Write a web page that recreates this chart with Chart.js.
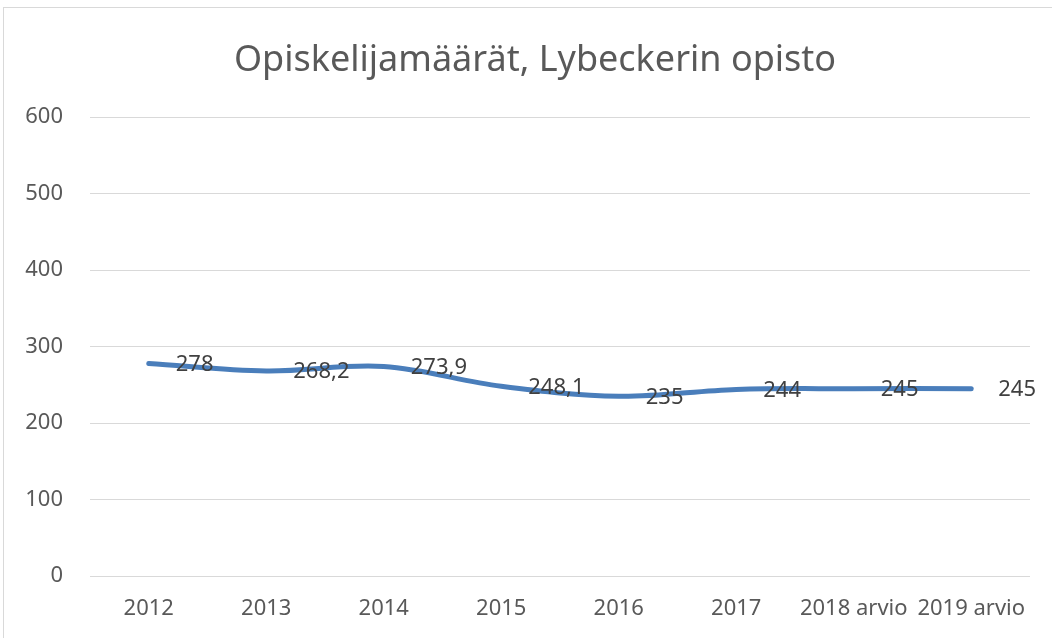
<!DOCTYPE html>
<html>
<head>
<meta charset="utf-8">
<script src="https://cdn.jsdelivr.net/npm/chart.js@4/dist/chart.umd.min.js"></script>
<style>
	html, body { margin: 0; padding: 0; background: #fff; overflow: hidden; }
	#wrap {
		position: absolute; left: 3px; top: 7px;
		width: 1062px; height: 660px;
		border: 1px solid #d9d9d9;
	}
	#chartStudents { display: block; }
</style>
</head>
<body>
<div id="wrap"><canvas id="chartStudents" width="1062" height="660"></canvas></div>
<script>
'use strict'

// data
const categories = ['2012', '2013', '2014', '2015', '2016', '2017', '2018 arvio', '2019 arvio'];
const students = [278, 268.2, 273.9, 248.1, 235, 244, 245, 245];
const yTicks = [0, 100, 200, 300, 400, 500, 600];

const textColor = '#595959';
const labelColor = '#404040';
const gridColor = '#d9d9d9';
const lineColor = '#4a7ebb';
const fontFamily = '"Noto Sans", sans-serif';

// value labels to the right of each point, Finnish decimal comma
const valueLabels = {
	id: 'valueLabels',
	afterDatasetsDraw(chart){
		const ctx = chart.ctx;
		const meta = chart.getDatasetMeta(0);
		ctx.save();
		ctx.font = '22px ' + fontFamily;
		ctx.fillStyle = labelColor;
		ctx.textAlign = 'left';
		ctx.textBaseline = 'middle';
		meta.data.forEach(function(pt, i){
			let txt = String(students[i]).replace('.', ',');
			ctx.fillText(txt, pt.x + 27, pt.y + 1);
		});
		ctx.restore();
	}
};

// centre the title on the whole frame, not on the padded box
const centerTitle = {
	id: 'centerTitle',
	afterLayout(chart){
		if(chart.titleBlock){
			chart.titleBlock.left = 0;
			chart.titleBlock.right = chart.width;
		}
	}
};

let chartStudents = new Chart(document.getElementById('chartStudents'), {
	type: 'line',
	data: {
		labels: categories,
		datasets: [{
			label: 'Opiskelijat',
			data: students,
			borderColor: lineColor,
			borderWidth: 5,
			borderCapStyle: 'round',
			tension: 0.35,
			pointRadius: 0,
			fill: false,
		}],
	},
	options: {
		responsive: false,
		maintainAspectRatio: false,
		devicePixelRatio: 1,
		animation: false,
		layout: {
			padding: { left: 0, right: 36, top: 0, bottom: 0 },
		},
		plugins: {
			legend: { display: false },
			tooltip: { enabled: false },
			title: {
				display: true,
				text: 'Opiskelijamäärät, Lybeckerin opisto',
				color: textColor,
				font: { family: fontFamily, size: 36, weight: 'normal' },
				padding: { top: 31, bottom: 35 },
			},
		},
		scales: {
			y: {
				min: 0,
				max: 600,
				afterFit: function(s){ s.width = 86; },
				afterBuildTicks: function(s){ s.ticks = yTicks.map(v => ({ value: v })); },
				grid: {
					color: gridColor,
					lineWidth: 1,
					drawTicks: false,
				},
				border: { display: false },
				ticks: {
					color: textColor,
					padding: 27,
					font: { family: fontFamily, size: 22 },
				},
			},
			x: {
				offset: true,
				afterFit: function(s){ s.height = 92; },
				grid: { display: false, drawTicks: false, offset: true },
				border: { display: false },
				ticks: {
					color: textColor,
					padding: 20,
					autoSkip: false,
					maxRotation: 0,
					font: { family: fontFamily, size: 22 },
				},
			},
		},
	},
	plugins: [valueLabels, centerTitle],
});
</script>
</body>
</html>
